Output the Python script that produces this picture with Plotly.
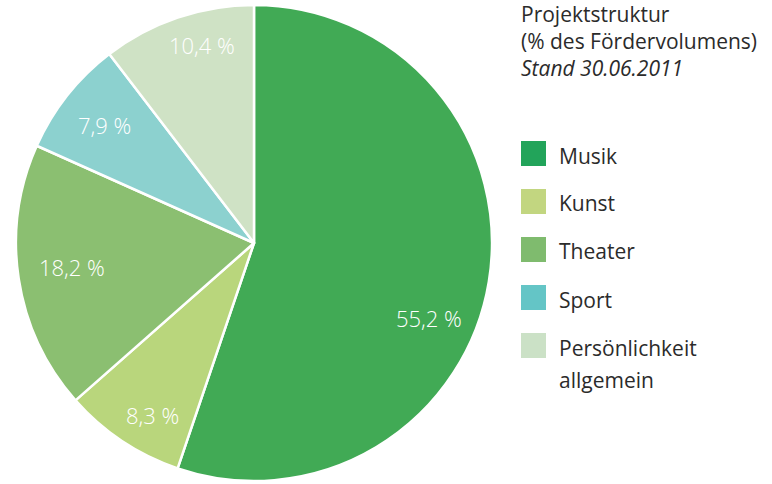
import math
import plotly.graph_objects as go

# ---- data ----
categories = ["Musik", "Kunst", "Theater", "Sport", "Persönlichkeit<br>allgemein"]
values = [55.2, 8.3, 18.2, 7.9, 10.4]
value_labels = ["55,2 %", "8,3 %", "18,2 %", "7,9 %", "10,4 %"]
title_lines = ["Projektstruktur", "(% des Fördervolumens)", "<i>Stand 30.06.2011</i>"]

# ---- styles ----
slice_colors = ["#41AA55", "#B9D67C", "#8BBF71", "#8CD1CF", "#CFE2C5"]
legend_colors = ["#22A45A", "#C2D680", "#7FBB6E", "#64C5C6", "#CBE1C6"]
# label placement: (angle shift in degrees, radial fraction)
label_place = [(14, 0.80), (-3, 0.84), (1, 0.77), (0, 0.80), (4, 0.86)]

W, H = 772, 484
pie_left, pie_top, pie_size = 16, 5, 476
FONT = "Open Sans"
TXT = "#2b2b2b"

fig = go.Figure()
fig.add_trace(go.Pie(
    labels=[c.replace("<br>", " ") for c in categories], values=values, sort=False,
    direction="clockwise", rotation=0,
    marker=dict(colors=slice_colors, line=dict(color="white", width=2.5)),
    textinfo="none", hoverinfo="label+percent", showlegend=False,
    domain=dict(x=[pie_left / W, (pie_left + pie_size) / W],
                y=[1 - (pie_top + pie_size) / H, 1 - pie_top / H]),
))

cx = pie_left + pie_size / 2
cy = pie_top + pie_size / 2
R = pie_size / 2
annotations = []
total = sum(values)
cum = 0
for v, lab, (shift, frac) in zip(values, value_labels, label_place):
    mid = (cum + v / 2) / total * 360 + shift
    cum += v
    a = math.radians(mid)
    px = cx + frac * R * math.sin(a)
    py = cy - frac * R * math.cos(a)
    annotations.append(dict(x=px / W, y=1 - py / H, xref="paper", yref="paper",
                            text=lab, showarrow=False, xanchor="center", yanchor="middle",
                            font=dict(family=FONT, size=22, color="white", weight=300)))

# title
for i, t in enumerate(title_lines):
    annotations.append(dict(x=519 / W, y=1 - (14 + i * 27) / H, xref="paper", yref="paper",
                            text=t, showarrow=False, xanchor="left", yanchor="middle",
                            font=dict(family=FONT, size=21, color=TXT)))

shapes = []
for i, (cat, col) in enumerate(zip(categories, legend_colors)):
    top = 141 + i * 48
    shapes.append(dict(type="rect", xref="paper", yref="paper",
                       x0=521 / W, x1=546 / W, y0=1 - (top + 25) / H, y1=1 - top / H,
                       fillcolor=col, line=dict(width=0)))
    for j, line in enumerate(cat.split("<br>")):
        annotations.append(dict(x=557 / W, y=1 - (top + 14.5 + j * 32) / H,
                                xref="paper", yref="paper",
                                text=line, showarrow=False, xanchor="left", yanchor="middle",
                                font=dict(family=FONT, size=21, color=TXT)))

fig.update_layout(width=W, height=H, margin=dict(l=0, r=0, t=0, b=0),
                  paper_bgcolor="white", plot_bgcolor="white",
                  annotations=annotations, shapes=shapes)
fig.write_html("out.html")
